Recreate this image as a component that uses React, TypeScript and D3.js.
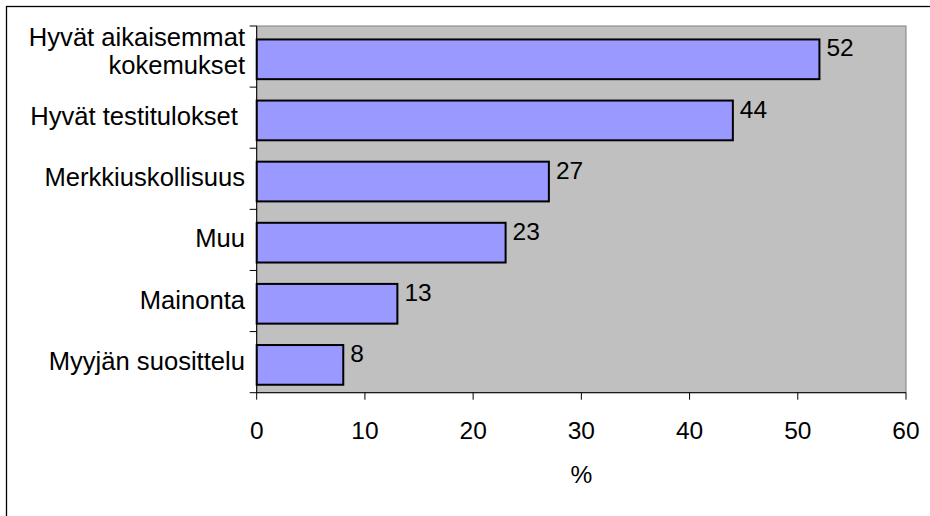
import React from "react";
import * as d3 from "d3";

const categories = [
  ["Hyvät aikaisemmat", "kokemukset"],
  ["Hyvät testitulokset "],
  ["Merkkiuskollisuus"],
  ["Muu"],
  ["Mainonta"],
  ["Myyjän suosittelu"],
];
const values = [52, 44, 27, 23, 13, 8];
const xTicks = [0, 10, 20, 30, 40, 50, 60];
const axisTitle = "%";

const W = 930;
const H = 516;
const plot = { left: 256.7, right: 906, top: 26, bottom: 392.7 };
const FONT = "'Liberation Sans', Arial, sans-serif";
const FS = 24.5;
const FS_CAT = 25.6;

export default function App() {
  const x = d3.scaleLinear().domain([0, 60]).range([plot.left, plot.right]);
  const y = d3
    .scaleBand<number>()
    .domain(d3.range(categories.length))
    .range([plot.top, plot.bottom]);
  const bw = y.bandwidth();
  const barOffset = bw * 0.22;
  const barH = bw * 0.65;

  return (
    <div style={{ position: "absolute", left: 0, top: 0 }}>
      <svg width={W} height={H} style={{ display: "block", background: "#fff" }}>
        <rect x={6.5} y={6.5} width={W + 20} height={H + 20} fill="#fff" stroke="#000" strokeWidth={1.3} />
        <rect
          x={plot.left}
          y={plot.top}
          width={plot.right - plot.left}
          height={plot.bottom - plot.top}
          fill="#C0C0C0"
          stroke="#808080"
          strokeWidth={1}
        />
        {values.map((v, i) => {
          const by = (y(i) as number) + barOffset;
          return (
            <g key={i}>
              <rect
                x={x(0)}
                y={by}
                width={x(v) - x(0)}
                height={barH}
                fill="#9999FF"
                stroke="#000"
                strokeWidth={2}
              />
              <text x={x(v) + 7} y={by + 17} fontFamily={FONT} fontSize={FS} fill="#000">
                {v}
              </text>
            </g>
          );
        })}
        {/* y axis */}
        <line x1={plot.left} x2={plot.left} y1={plot.top} y2={plot.bottom} stroke="#000" strokeWidth={1} />
        {d3.range(categories.length + 1).map((i) => {
          const ty = plot.top + i * bw;
          return <line key={i} x1={plot.left - 7} x2={plot.left} y1={ty} y2={ty} stroke="#000" strokeWidth={1} />;
        })}
        {categories.map((lines, i) => {
          const cy = (y(i) as number) + bw / 2;
          const lh = 28.3;
          const first = cy + 7.5 - ((lines.length - 1) * lh) / 2 - (lines.length > 1 ? 4 : 0);
          return (
            <text
              key={i}
              x={245}
              textAnchor="end"
              fontFamily={FONT}
              fontSize={FS_CAT}
              fill="#000"
              style={{ whiteSpace: "pre" }}
            >
              {lines.map((l, j) => (
                <tspan key={j} x={245} y={first + j * lh}>
                  {l}
                </tspan>
              ))}
            </text>
          );
        })}
        {/* x axis */}
        <line x1={plot.left} x2={plot.right} y1={plot.bottom} y2={plot.bottom} stroke="#000" strokeWidth={1} />
        {xTicks.map((t) => (
          <g key={t}>
            <line x1={x(t)} x2={x(t)} y1={plot.bottom} y2={plot.bottom + 7} stroke="#000" strokeWidth={1} />
            <text x={x(t)} y={439.3} textAnchor="middle" fontFamily={FONT} fontSize={FS} fill="#000">
              {t}
            </text>
          </g>
        ))}
        <text
          x={(plot.left + plot.right) / 2}
          y={483}
          textAnchor="middle"
          fontFamily={FONT}
          fontSize={FS}
          fill="#000"
        >
          {axisTitle}
        </text>
      </svg>
    </div>
  );
}
